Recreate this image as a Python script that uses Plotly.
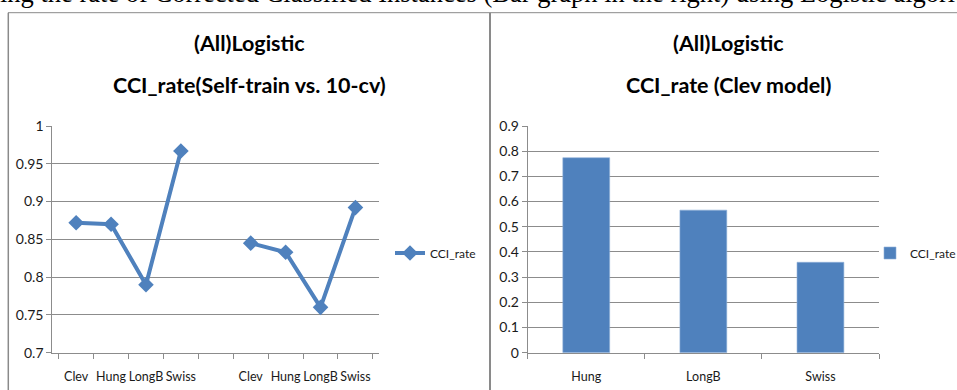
import plotly.graph_objects as go

# ---- data ----
# left chart: self-train group, empty separator slot, 10-fold CV group
left_ids = ["Clev (self-train)", "Hung (self-train)", "LongB (self-train)", "Swiss (self-train)",
            "gap",
            "Clev (10-cv)", "Hung (10-cv)", "LongB (10-cv)", "Swiss (10-cv)"]
left_labels = ["Clev", "Hung", "LongB", "Swiss", "", "Clev", "Hung", "LongB", "Swiss"]
left_cci = [0.872, 0.870, 0.790, 0.967, None, 0.845, 0.833, 0.760, 0.892]

# right chart: Clev model tested on the other datasets
right_cats = ["Hung", "LongB", "Swiss"]
right_cci = [0.774, 0.566, 0.359]

series_name = "CCI_rate"

# ---- style ----
W, H = 957, 390
BLUE = "#4F81BD"
GRID = "#8C8C8C"
SANS = "Lato, Roboto, sans-serif"
SERIF = "Liberation Serif, Times New Roman, serif"


def px_x(x):
    return x / W


def px_y(y):
    return 1 - y / H


fig = go.Figure()

fig.add_trace(go.Scatter(
    x=left_ids, y=left_cci, name=series_name, mode="lines+markers",
    line=dict(color=BLUE, width=4),
    marker=dict(symbol="diamond", size=12, color=BLUE),
    connectgaps=False, xaxis="x", yaxis="y", legend="legend",
))

fig.add_trace(go.Bar(
    x=right_cats, y=right_cci, name=series_name,
    marker=dict(color=BLUE, line=dict(color="#8FB0D8", width=0.6)),
    xaxis="x2", yaxis="y2", legend="legend2",
))

ydom = [px_y(352.7), px_y(126)]
tickfont = dict(family=SANS, size=14, color="#1a1a1a")

common_x = dict(
    type="category", showline=True, linecolor=GRID, linewidth=1,
    ticks="outside", tickson="boundaries", ticklen=5, tickcolor=GRID,
    showgrid=False, tickfont=dict(tickfont, size=12.5), tickangle=0,
    ticklabelstandoff=12, fixedrange=True,
)
common_y = dict(
    showline=True, linecolor=GRID, linewidth=1, ticks="outside", ticklen=5,
    tickcolor=GRID, showgrid=True, gridcolor=GRID, gridwidth=1,
    zeroline=False, tickfont=tickfont, fixedrange=True,
)

legend_font = dict(family=SANS, size=12, color="#1a1a1a")

fig.update_layout(
    width=W, height=H,
    margin=dict(l=0, r=0, t=0, b=0, autoexpand=False),
    paper_bgcolor="white", plot_bgcolor="white",
    showlegend=True,
    xaxis=dict(common_x, domain=[px_x(52.3), px_x(379.3)], anchor="y",
               categoryorder="array", categoryarray=left_ids,
               tickmode="array", tickvals=left_ids, ticktext=left_labels),
    yaxis=dict(common_y, domain=ydom, anchor="x", range=[0.7, 1.0], dtick=0.05),
    xaxis2=dict(common_x, domain=[px_x(527.7), px_x(879)], anchor="y2"),
    yaxis2=dict(common_y, domain=ydom, anchor="x2", range=[0, 0.9], dtick=0.1),
    bargap=0.6,
    legend=dict(x=px_x(390), y=px_y(253), xanchor="left", yanchor="middle",
                font=legend_font, bgcolor="rgba(0,0,0,0)"),
    legend2=dict(x=px_x(870), y=px_y(253), xanchor="left", yanchor="middle",
                 font=legend_font, bgcolor="rgba(0,0,0,0)"),
)

# chart titles (two lines each)
title_font = dict(family=SANS, size=21.5, color="black")
for cx, l1, l2 in [(249, "(All)Logistic", "CCI_rate(Self-train vs. 10-cv)"),
                   (728, "(All)Logistic", "CCI_rate (Clev model)")]:
    fig.add_annotation(x=px_x(cx), y=px_y(43), xref="paper", yref="paper",
                       text="<b>%s</b>" % l1, showarrow=False,
                       xanchor="center", yanchor="middle", font=title_font)
    fig.add_annotation(x=px_x(cx), y=px_y(85), xref="paper", yref="paper",
                       text="<b>%s</b>" % l2, showarrow=False,
                       xanchor="center", yanchor="middle", font=title_font)

# caption line of the surrounding document, cut by the page top
fig.add_annotation(x=px_x(-1), y=px_y(9), xref="paper", yref="paper",
                   text="ing the rate of Corrected Classified Instances (Bar graph in the right) using Logistic algorithm",
                   showarrow=False, xanchor="left", yanchor="bottom", borderpad=0,
                   font=dict(family=SERIF, size=26.5, color="black"))

# table rules around the two cells
line_style = dict(color="#8A8A8A", width=1)
fig.add_shape(type="line", xref="paper", yref="paper",
              x0=px_x(8), x1=1, y0=px_y(12.7), y1=px_y(12.7), line=line_style)
fig.add_shape(type="line", xref="paper", yref="paper",
              x0=px_x(8.3), x1=px_x(8.3), y0=px_y(12.7), y1=0,
              line=dict(color="#8A8A8A", width=1.5))
fig.add_shape(type="line", xref="paper", yref="paper",
              x0=px_x(490), x1=px_x(490), y0=px_y(12.7), y1=0,
              line=dict(color="#8A8A8A", width=2))

fig.write_html("out.html")
